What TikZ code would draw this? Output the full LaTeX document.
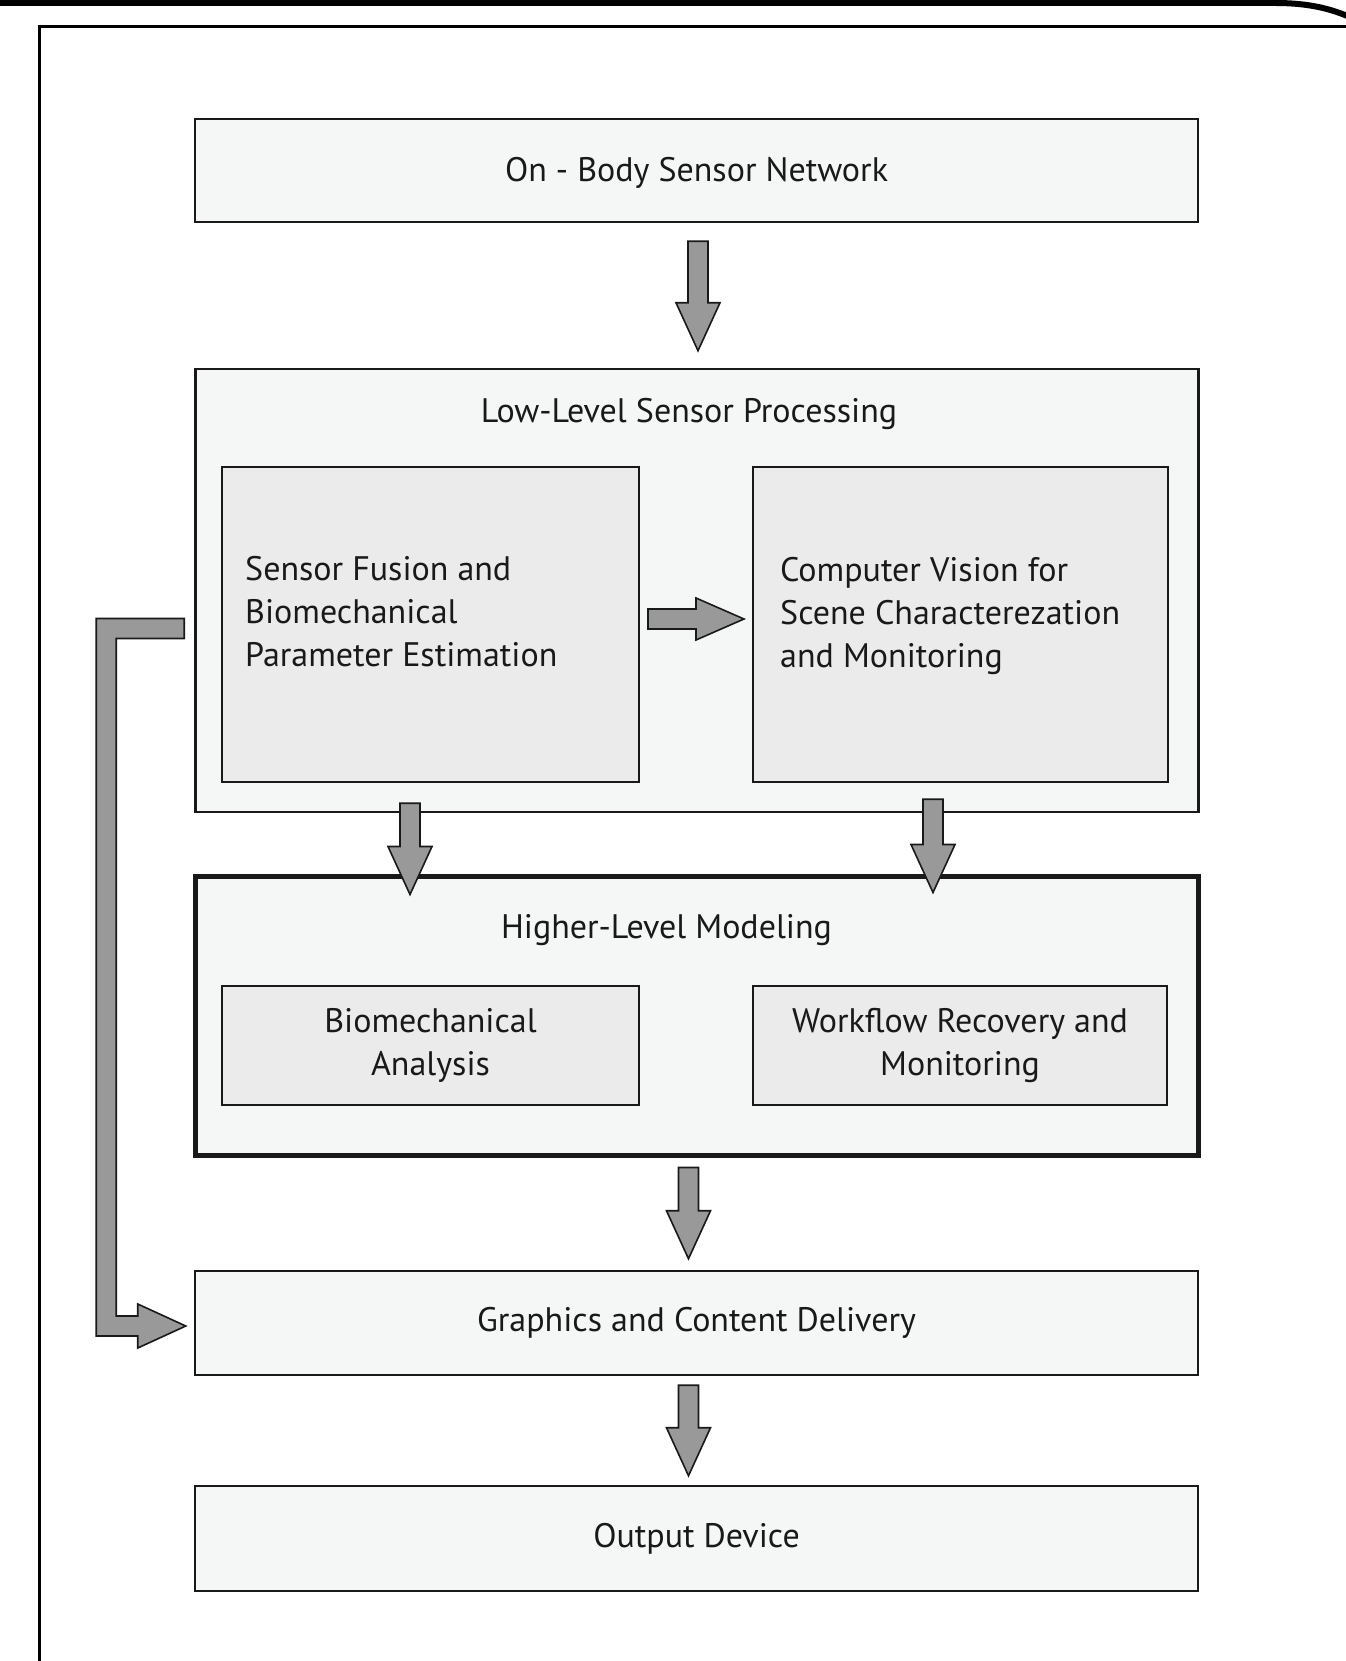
\documentclass[tikz,border=0pt]{standalone}
\usepackage{fontspec}
\setmainfont{PT Sans}
\usepackage{tikz}
\usetikzlibrary{
    calc,
}
\definecolor{panelfill}{RGB}{245,246,246}
\definecolor{innerfill}{RGB}{235,235,235}
\definecolor{arrowfill}{RGB}{153,153,153}
\definecolor{linedark}{RGB}{25,25,25}
\tikzset{
    stage/.style={draw=linedark, line width=2.5pt, fill=panelfill, minimum width=1003pt, inner sep=0pt},
    substage/.style={draw=linedark, line width=2pt, fill=innerfill, inner sep=0pt, align=center},
    boxtext/.style={inner sep=0pt, align=left, anchor=west},
    blockarrow/.style={draw=linedark, line width=1.6pt, fill=arrowfill, line join=miter},
    every node/.style={font=\fontsize{34}{43}\selectfont, text=linedark},
}
% block arrows, drawn from a start point to the tip
\newcommand\downblock[2]{%
    \draw[blockarrow] let \p1=(#1), \p2=(#2) in
        (\x1-10pt,\y1) -- (\x1+10pt,\y1) -- (\x1+10pt,\y2+48pt) -- (\x1+22pt,\y2+48pt)
        -- (\x1,\y2) -- (\x1-22pt,\y2+48pt) -- (\x1-10pt,\y2+48pt) -- cycle;}
\newcommand\rightblock[2]{%
    \draw[blockarrow] let \p1=(#1), \p2=(#2) in
        (\x1,\y1+10pt) -- (\x2-48pt,\y1+10pt) -- (\x2-48pt,\y1+21pt) -- (\x2,\y1)
        -- (\x2-48pt,\y1-21pt) -- (\x2-48pt,\y1-10pt) -- (\x1,\y1-10pt) -- cycle;}
\newcommand\elbowblock[2]{%
    \draw[blockarrow] let \p1=(#1), \p2=(#2) in
        (\x1,\y1+10pt) -- (\x1-88pt,\y1+10pt) -- (\x1-88pt,\y2-10pt) -- (\x2-48pt,\y2-10pt)
        -- (\x2-48pt,\y2-22pt) -- (\x2,\y2) -- (\x2-48pt,\y2+22pt) -- (\x2-48pt,\y2+10pt)
        -- (\x1-68pt,\y2+10pt) -- (\x1-68pt,\y1-10pt) -- (\x1,\y1-10pt) -- cycle;}

\begin{document}
\begin{tikzpicture}[x=1pt, y=-1pt]
    \useasboundingbox (0,0) rectangle (1345,1661);
    % page frame
    \draw[line width=6pt] (-10,3) -- (1275,3) .. controls (1310,3) and (1335,9) .. (1360,22);
    \draw[line width=3pt] (1360,26.5) -- (39.5,26.5) -- (39.5,1680);

    % stages
    \node[stage, minimum height=103pt, text depth=2pt] (onbody) at (696.5,170.5) {On - Body Sensor Network};
    \node[stage, minimum height=443pt] (lowlevel) at (697,590.5) {};
    \node (lltitle) at ($(lowlevel.north)+(-8,46)$) {Low-Level Sensor Processing};
    \node[substage, minimum width=417pt, minimum height=315pt] (fusion) at (430.5,624.5) {};
    \node[substage, minimum width=415pt, minimum height=315pt] (vision) at (960.5,624.5) {};
    \node[boxtext] (fusiontext) at ($(fusion.west)+(24,-12.5)$)
        {Sensor Fusion and\\Biomechanical\\Parameter Estimation};
    \node[boxtext] (visiontext) at ($(vision.west)+(28,-9)$)
        {Computer Vision for\\Scene Characterezation\\and Monitoring};

    \node[stage, line width=5pt, minimum height=279pt] (higher) at (696.5,1015.5) {};
    \node (hltitle) at ($(higher.north)+(-30,57)$) {Higher-Level Modeling};
    \node[substage, minimum width=417pt, minimum height=119pt] (bioan) at (430.5,1045.5)
        {Biomechanical\\Analysis};
    \node[substage, minimum width=414pt, minimum height=119pt] (workflow) at (960,1045.5)
        {Workflow Recovery and\\Monitoring};

    \node[stage, minimum height=104pt] (graphics) at (696.5,1323) {Graphics and Content Delivery};
    \node[stage, minimum height=105pt] (output) at (696.5,1538.5) {Output Device};

    % connectors
    \downblock{$(onbody.south)+(1.5,18)$}{$(lowlevel.north)+(1.5,-17)$}
    \rightblock{$(fusion.east)+(8,-5.5)$}{$(vision.west)+(-8,-5.5)$}
    \downblock{$(fusion.south |- lowlevel.south)+(-20.5,-10)$}{$(fusion.south |- higher.north)+(-20.5,21)$}
    \downblock{$(vision.south |- lowlevel.south)+(-27.5,-14)$}{$(vision.south |- higher.north)+(-27.5,19)$}
    \downblock{$(higher.south)+(-8,10)$}{$(graphics.north)+(-8,-11)$}
    \downblock{$(graphics.south)+(-8,9)$}{$(output.north)+(-8,-9)$}
    \elbowblock{$(lowlevel.west |- fusion.west)+(-10,4)$}{$(graphics.west)+(-8,3)$}
\end{tikzpicture}
\end{document}
